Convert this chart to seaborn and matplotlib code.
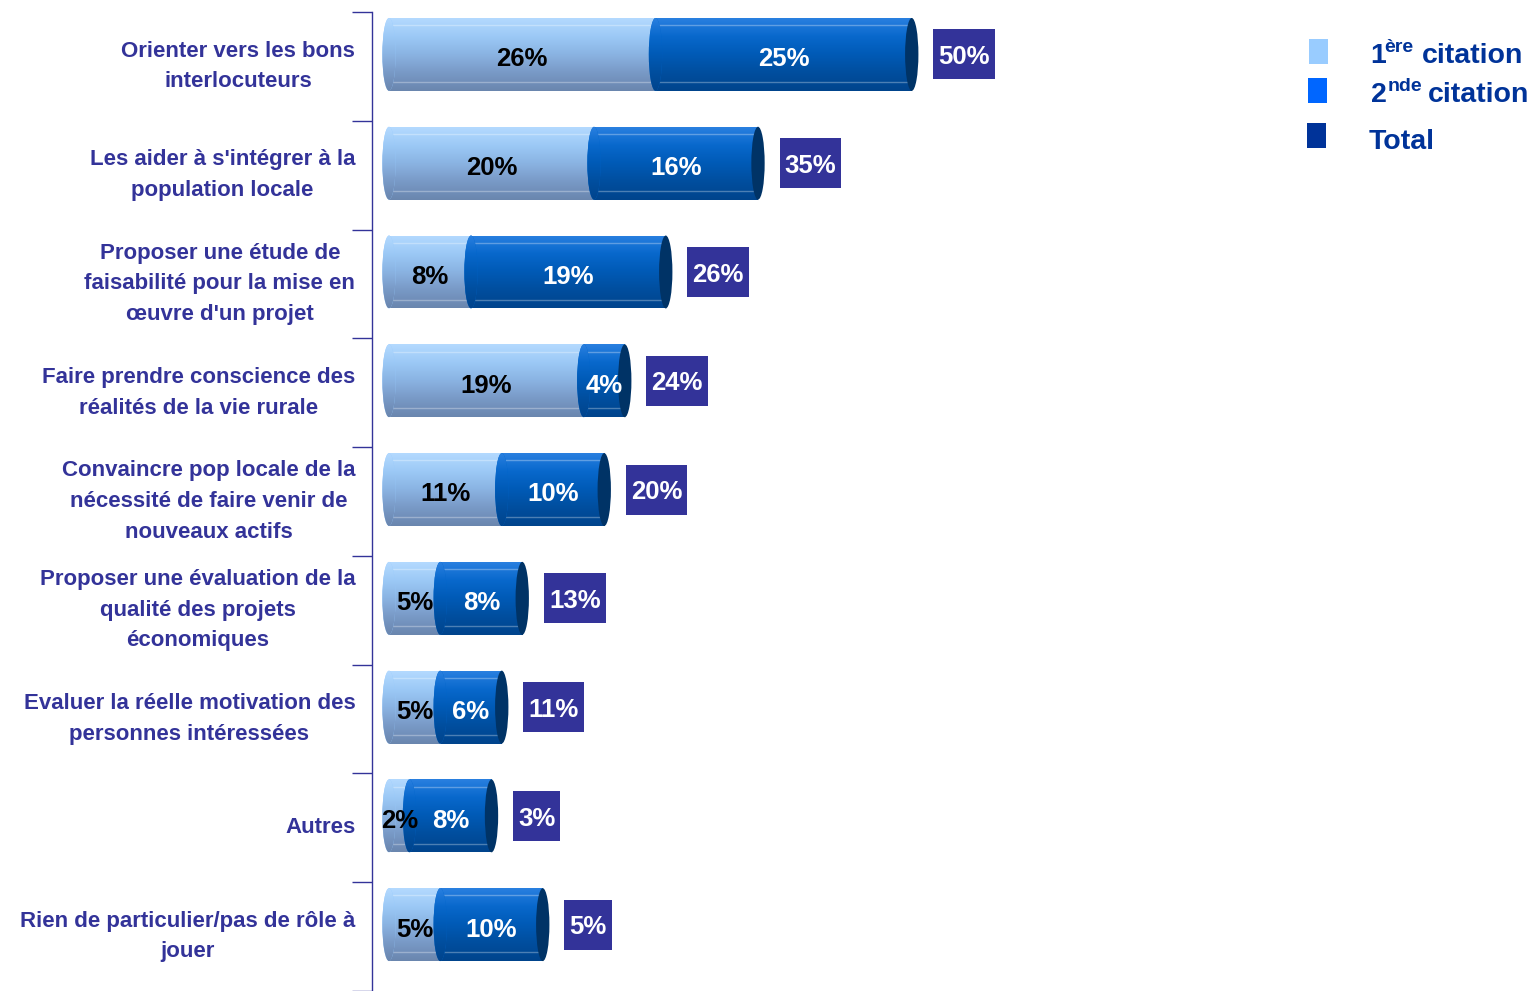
import numpy as np
import pandas as pd
import matplotlib
matplotlib.use("Agg")
import matplotlib.pyplot as plt
import seaborn as sns
from matplotlib.colors import LinearSegmentedColormap
from matplotlib.patches import Ellipse, Rectangle

categories = [
    "Orienter vers les bons\ninterlocuteurs",
    "Les aider à s'intégrer à la\npopulation locale",
    "Proposer une étude de\nfaisabilité pour la mise en\nœuvre d'un projet",
    "Faire prendre conscience des\nréalités de la vie rurale",
    "Convaincre pop locale de la\nnécessité de faire venir de\nnouveaux actifs",
    "Proposer une évaluation de la\nqualité des projets\néconomiques",
    "Evaluer la réelle motivation des\npersonnes intéressées",
    "Autres",
    "Rien de particulier/pas de rôle à\njouer",
]
first_citation = [26, 20, 8, 19, 11, 5, 5, 2, 5]
second_citation = [25, 16, 19, 4, 10, 8, 6, 8, 10]
total = [50, 35, 26, 24, 20, 13, 11, 3, 5]

df = pd.DataFrame({
    "categorie": categories,
    "premiere": first_citation,
    "seconde": second_citation,
    "total": total,
})
df["cumul"] = df["premiere"] + df["seconde"]

W, H = 1535, 991
LABEL_COLOR = "#333399"
LEGEND_COLOR = "#003399"
light_cmap = LinearSegmentedColormap.from_list(
    "light", ["#b4daff", "#9cc9f6", "#8ab3e2", "#7899c6", "#6a86ae"])
mid_cmap = LinearSegmentedColormap.from_list(
    "mid", ["#2a80e0", "#0868cc", "#005ab6", "#004e9e", "#00448c"])

sns.set_style("white")
plt.rcParams["font.family"] = ["Liberation Sans", "DejaVu Sans"]

fig = plt.figure(figsize=(W / 100, H / 100), dpi=100)
ax = fig.add_axes([372 / W, 0, (1290 - 372) / W, (H - 12) / H])

bar_h = 0.67
shift = 0.11  # bars sit a bit above the middle of each row
sns.barplot(data=df, y="categorie", x="cumul", orient="h", color="#0066cc",
            saturation=1, width=bar_h, errorbar=None, ax=ax)
sns.barplot(data=df, y="categorie", x="premiere", orient="h", color="#99ccff",
            saturation=1, width=bar_h, errorbar=None, ax=ax)

grad = np.linspace(0, 1, 256).reshape(-1, 1)


def shade(patch, cmap, x0, x1, y0, y1, z):
    im = ax.imshow(grad, cmap=cmap, extent=[x0, x1, y1, y0], aspect="auto",
                   zorder=z, interpolation="bilinear")
    im.set_clip_path(patch)


n = len(df)
bars = ax.patches[:2 * n]
cap_w = 1.3
for k, patch in enumerate(bars):
    x0, y0 = patch.get_x(), patch.get_y()
    w, h = patch.get_width(), patch.get_height()
    cmap = mid_cmap if k < n else light_cmap
    z = 2 if k < n else 3
    shade(patch, cmap, x0, x0 + w, y0, y0 + h, z)
    for fy in (0.1, 0.88):
        ax.plot([x0, x0 + w], [y0 + fy * h] * 2, color="white", alpha=0.3,
                lw=1, zorder=z + 0.1)

total_texts = []
for i, row in df.iterrows():
    yc = i
    e = Ellipse((0, yc), cap_w, bar_h, facecolor="#99ccff", edgecolor="none", zorder=3.5)
    ax.add_patch(e)
    shade(e, light_cmap, -cap_w, cap_w, yc - bar_h / 2, yc + bar_h / 2, 3.5)
    e = Ellipse((row["premiere"], yc), cap_w, bar_h, facecolor="#0066cc",
                edgecolor="none", zorder=4)
    ax.add_patch(e)
    shade(e, mid_cmap, row["premiere"] - cap_w, row["premiere"] + cap_w,
          yc - bar_h / 2, yc + bar_h / 2, 4)
    ax.add_patch(Ellipse((row["cumul"], yc), cap_w, bar_h, facecolor="#003366",
                         edgecolor="none", zorder=5))

    ax.text(row["premiere"] / 2, yc + 0.045, f"{row['premiere']}%", ha="center",
            va="center", fontsize=18.5, fontweight="bold", color="black", zorder=6)
    ax.text(row["premiere"] + row["seconde"] / 2, yc + 0.045, f"{row['seconde']}%",
            ha="center", va="center", fontsize=18.5, fontweight="bold",
            color="white", zorder=6)
    t = ax.text(row["cumul"] + 2.6, yc + 0.025, f"{row['total']}%", ha="left",
                va="center", fontsize=18.5, fontweight="bold", color="white", zorder=6)
    total_texts.append(t)

px = 10.25
ax.set_xlim(-17 / px, (1290 - 372 - 17) / px)
ax.set_ylim(n - 0.5 + shift, -0.5 + shift)
ax.set_xlabel("")
ax.set_ylabel("")
ax.set_xticks([])
ax.set_yticks(np.arange(n) + shift)
ax.set_yticklabels(categories, fontsize=16, fontweight="bold", color=LABEL_COLOR,
                   multialignment="center", linespacing=1.6, va="center")
ax.set_yticks(np.arange(-0.5, n + 0.5, 1) + shift, minor=True)
ax.tick_params(axis="y", which="major", length=0, pad=12)
ax.tick_params(axis="y", which="minor", length=14.5, width=1, color=LABEL_COLOR,
               direction="out", left=True)
for side in ("top", "right", "bottom"):
    ax.spines[side].set_visible(False)
ax.spines["left"].set_color(LABEL_COLOR)
ax.spines["left"].set_linewidth(1)

# purple boxes behind the totals, sized on the rendered text
fig.canvas.draw()
renderer = fig.canvas.get_renderer()
inv = ax.transData.inverted()
pad_x = 5 / px
box_h = 50 / 108.8
for i, t in enumerate(total_texts):
    bb = t.get_window_extent(renderer).transformed(inv)
    ax.add_patch(Rectangle((bb.x0 - pad_x, i - box_h / 2), bb.width + 2 * pad_x, box_h,
                           facecolor="#333399", edgecolor="none", zorder=5.5))

# legend drawn by hand (superscripts)
squares = [((1309, 39, 19, 25), "#99ccff"), ((1308, 78, 19, 25), "#0066ff"),
           ((1307, 123, 19, 25), "#003399")]
for (x, y, w, h), c in squares:
    fig.add_artist(Rectangle((x / W, 1 - (y + h) / H), w / W, h / H,
                             transform=fig.transFigure, facecolor=c, edgecolor="none"))


def ftext(x, y, s, size):
    fig.text(x / W, 1 - y / H, s, fontsize=size, fontweight="bold", color=LEGEND_COLOR,
             ha="left", va="baseline")


ftext(1370, 63, "1", 20.5)
ftext(1384, 52, "ère", 14)
ftext(1422, 63, "citation", 20.5)
ftext(1371, 102, "2", 20.5)
ftext(1388, 91, "nde", 14)
ftext(1428, 102, "citation", 20.5)
ftext(1369, 149, "Total", 20.5)

fig.savefig("out.png", dpi=100)
